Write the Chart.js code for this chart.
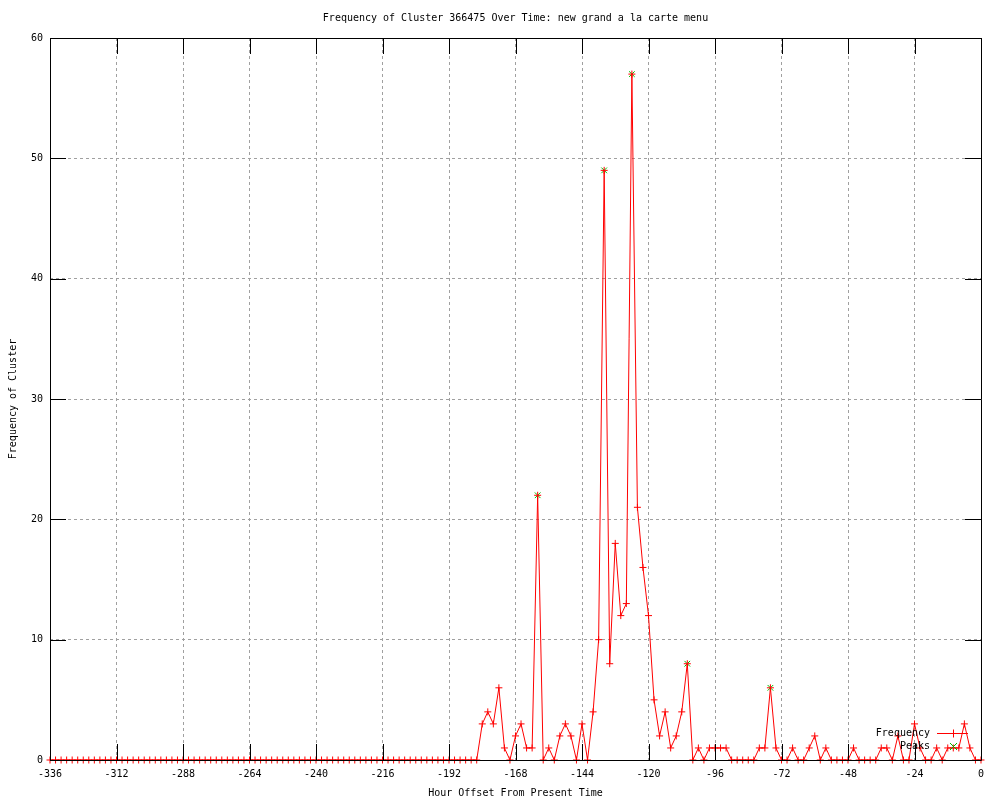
<!DOCTYPE html>
<html>
<head>
<title>Frequency of Cluster 366475</title>
<script src="https://cdn.jsdelivr.net/npm/chart.js"></script>
<style>
  body { margin: 0; background: #fff; }
</style>
</head>
<body>
<canvas id="myChart" width="1000" height="800"></canvas>
<script>
const chartTitle = 'Frequency of Cluster 366475 Over Time: new grand a la carte menu';
const xTitle = 'Hour Offset From Present Time';
const yTitle = 'Frequency of Cluster';

const hours = [
  -336,-334,-332,-330,-328,-326,-324,-322,-320,-318,-316,-314,-312,
  -310,-308,-306,-304,-302,-300,-298,-296,-294,-292,-290,-288,-286,
  -284,-282,-280,-278,-276,-274,-272,-270,-268,-266,-264,-262,-260,
  -258,-256,-254,-252,-250,-248,-246,-244,-242,-240,-238,-236,-234,
  -232,-230,-228,-226,-224,-222,-220,-218,-216,-214,-212,-210,-208,
  -206,-204,-202,-200,-198,-196,-194,-192,-190,-188,-186,-184,-182,
  -180,-178,-176,-174,-172,-170,-168,-166,-164,-162,-160,-158,-156,
  -154,-152,-150,-148,-146,-144,-142,-140,-138,-136,-134,-132,-130,
  -128,-126,-124,-122,-120,-118,-116,-114,-112,-110,-108,-106,-104,
  -102,-100,-98,-96,-94,-92,-90,-88,-86,-84,-82,-80,-78,
  -76,-74,-72,-70,-68,-66,-64,-62,-60,-58,-56,-54,-52,
  -50,-48,-46,-44,-42,-40,-38,-36,-34,-32,-30,-28,-26,
  -24,-22,-20,-18,-16,-14,-12,-10,-8,-6,-4,-2,0
];
const frequency = [
  0,0,0,0,0,0,0,0,0,0,0,0,0,
  0,0,0,0,0,0,0,0,0,0,0,0,0,
  0,0,0,0,0,0,0,0,0,0,0,0,0,
  0,0,0,0,0,0,0,0,0,0,0,0,0,
  0,0,0,0,0,0,0,0,0,0,0,0,0,
  0,0,0,0,0,0,0,0,0,0,0,0,0,
  3,4,3,6,1,0,2,3,1,1,22,0,1,
  0,2,3,2,0,3,0,4,10,49,8,18,12,
  13,57,21,16,12,5,2,4,1,2,4,8,0,
  1,0,1,1,1,1,0,0,0,0,0,1,1,
  6,1,0,0,1,0,0,1,2,0,1,0,0,
  0,0,1,0,0,0,0,1,1,0,2,0,0,
  3,1,0,0,1,0,1,1,1,3,1,0,0
];
const peakHours = [-160, -136, -126, -106, -76];
const peakValues = [22, 49, 57, 8, 6];

const xTickValues = [-336, -312, -288, -264, -240, -216, -192, -168, -144, -120, -96, -72, -48, -24, 0];
const yTickValues = [0, 10, 20, 30, 40, 50, 60];

const FONT = '10px "DejaVu Sans Mono", "Liberation Mono", monospace';
const TICK_LEN = 16;

// gnuplot style frame, inner ticks, titles and legend
const gnuplotDecor = {
  id: 'gnuplotDecor',
  afterDatasetsDraw(chart) {
    const ctx = chart.ctx;
    const a = chart.chartArea;
    const xs = chart.scales.x;
    const ys = chart.scales.y;
    ctx.save();
    ctx.strokeStyle = '#000';
    ctx.lineWidth = 1;
    ctx.setLineDash([]);
    ctx.beginPath();
    ctx.rect(a.left + 0.5, a.top + 0.5, a.right - a.left, a.bottom - a.top);
    xTickValues.forEach(v => {
      const px = Math.round(xs.getPixelForValue(v)) + 0.5;
      ctx.moveTo(px, a.bottom);
      ctx.lineTo(px, a.bottom - TICK_LEN);
      ctx.moveTo(px, a.top);
      ctx.lineTo(px, a.top + TICK_LEN);
    });
    yTickValues.forEach(v => {
      const py = Math.round(ys.getPixelForValue(v)) + 0.5;
      ctx.moveTo(a.left, py);
      ctx.lineTo(a.left + TICK_LEN, py);
      ctx.moveTo(a.right, py);
      ctx.lineTo(a.right - TICK_LEN, py);
    });
    ctx.stroke();

    ctx.fillStyle = '#000';
    ctx.font = FONT;
    ctx.textBaseline = 'middle';
    ctx.textAlign = 'center';
    const cx = (a.left + a.right) / 2;
    ctx.fillText(chartTitle, cx, 18);
    ctx.fillText(xTitle, cx, 793);
    ctx.save();
    ctx.translate(13, (a.top + a.bottom) / 2);
    ctx.rotate(-Math.PI / 2);
    ctx.fillText(yTitle, 0, 0);
    ctx.restore();

    // legend inside bottom right
    const ds = chart.data.datasets;
    const textX = a.right - 51;
    const y1 = a.bottom - 27;
    const y2 = a.bottom - 14;
    ctx.textAlign = 'right';
    ctx.fillText(ds[0].label, textX, y1);
    ctx.fillText(ds[1].label, textX, y2);
    const sx = a.right - 28;
    ctx.strokeStyle = ds[0].borderColor;
    ctx.beginPath();
    ctx.moveTo(a.right - 44, y1 + 0.5);
    ctx.lineTo(a.right - 13, y1 + 0.5);
    ctx.moveTo(sx + 0.5, y1 - 3.5);
    ctx.lineTo(sx + 0.5, y1 + 4.5);
    ctx.stroke();
    ctx.strokeStyle = ds[1].pointBorderColor;
    ctx.beginPath();
    ctx.moveTo(sx - 3, y2 - 3);
    ctx.lineTo(sx + 4, y2 + 4);
    ctx.moveTo(sx + 4, y2 - 3);
    ctx.lineTo(sx - 3, y2 + 4);
    ctx.stroke();
    ctx.restore();
  }
};

const ctx = document.getElementById('myChart').getContext('2d');
const chart = new Chart(ctx, {
  type: 'line',
  data: {
    datasets: [
      {
        label: 'Frequency',
        data: hours.map((h, i) => ({ x: h, y: frequency[i] })),
        borderColor: '#ff0000',
        backgroundColor: '#ff0000',
        borderWidth: 1,
        pointStyle: 'cross',
        pointRadius: 3.5,
        pointBorderColor: '#ff0000',
        pointBorderWidth: 1,
        tension: 0,
        clip: false
      },
      {
        label: 'Peaks',
        data: peakHours.map((h, i) => ({ x: h, y: peakValues[i] })),
        showLine: false,
        pointStyle: 'crossRot',
        pointRadius: 4,
        pointBorderColor: '#00c000',
        backgroundColor: '#00c000',
        pointBorderWidth: 1,
        clip: false
      }
    ]
  },
  options: {
    responsive: false,
    devicePixelRatio: 1,
    animation: false,
    events: [],
    layout: { padding: { top: 38, right: 19, left: 0, bottom: 0 } },
    plugins: {
      legend: { display: false },
      title: { display: false },
      tooltip: { enabled: false }
    },
    scales: {
      x: {
        type: 'linear',
        min: -336,
        max: 0,
        afterBuildTicks: scale => { scale.ticks = xTickValues.map(v => ({ value: v })); },
        afterFit: scale => { scale.height = 40; },
        grid: { color: '#a0a0a0', lineWidth: 1, drawTicks: false },
        border: { display: false, dash: [3, 3] },
        ticks: { color: '#000', font: { family: '"DejaVu Sans Mono"', size: 10 }, padding: 8, maxRotation: 0, autoSkip: false }
      },
      y: {
        min: 0,
        max: 60,
        afterBuildTicks: scale => { scale.ticks = yTickValues.map(v => ({ value: v })); },
        afterFit: scale => { scale.width = 50; },
        grid: { color: '#a0a0a0', lineWidth: 1, drawTicks: false },
        border: { display: false, dash: [3, 3] },
        ticks: { color: '#000', font: { family: '"DejaVu Sans Mono"', size: 10 }, padding: 7 }
      }
    }
  },
  plugins: [gnuplotDecor]
});
</script>
</body>
</html>
